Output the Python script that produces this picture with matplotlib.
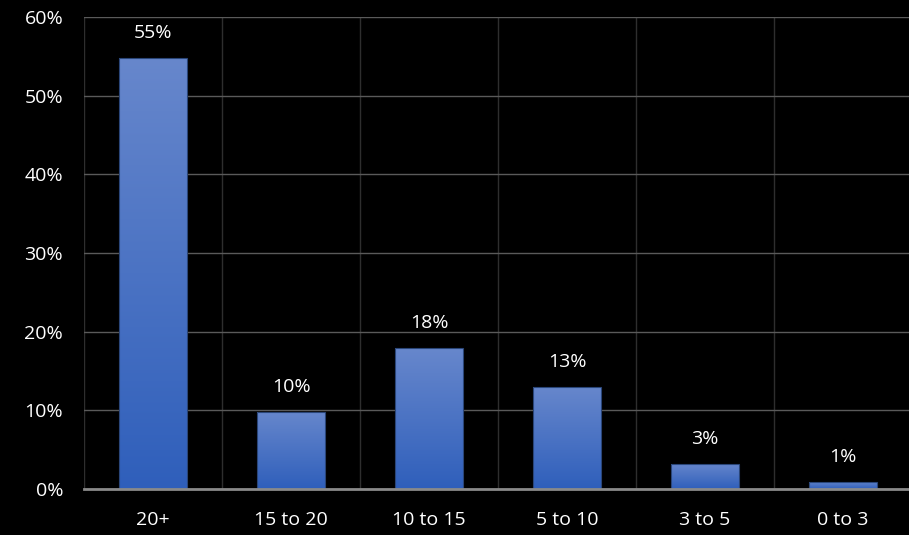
import numpy as np
import matplotlib.pyplot as plt
from matplotlib.colors import LinearSegmentedColormap

categories = ['20+', '15 to 20', '10 to 15', '5 to 10', '3 to 5', '0 to 3']
values = [54.8, 9.8, 17.9, 13.0, 3.2, 0.9]
labels = ['55%', '10%', '18%', '13%', '3%', '1%']
yticks = [0, 10, 20, 30, 40, 50, 60]

plt.rcParams['font.family'] = ['Open Sans', 'DejaVu Sans']

fig = plt.figure(figsize=(9.09, 5.35), dpi=100, facecolor='black')
ax = fig.add_axes([84/909, 46/535, 828/909, 472/535], facecolor='black')

x = np.arange(len(categories))
bars = ax.bar(x, values, width=0.49, color='none', edgecolor='#2a4679', linewidth=0.8, zorder=3)

#vertical gradient inside each bar
grad_cmap = LinearSegmentedColormap.from_list('g', ['#2f5fbb', '#6787cc'])
grad = np.linspace(0, 1, 256).reshape(-1, 1)
for b in bars:
    x0, y0 = b.get_x(), b.get_y()
    w, h = b.get_width(), b.get_height()
    im = ax.imshow(grad, cmap=grad_cmap, origin='lower', aspect='auto',
                   extent=[x0, x0 + w, y0, y0 + h], zorder=2)
    im.set_clip_path(b)

for xi, v, lab in zip(x, values, labels):
    ax.text(xi, v + 2.0, lab, ha='center', va='bottom', color='white', fontsize=14)

ax.set_xlim(-0.5, len(categories) - 0.5)
ax.set_ylim(0, 60)
ax.set_yticks(yticks)
ax.set_yticklabels([f'{t}%' for t in yticks])
ax.set_xticks(x)
ax.set_xticklabels(categories)
ax.set_xticks(np.arange(len(categories)) - 0.5, minor=True)

ax.tick_params(axis='both', colors='white', labelsize=14, length=0)
ax.tick_params(axis='y', pad=15)
ax.tick_params(axis='x', pad=16)
ax.tick_params(which='minor', length=0)

ax.grid(axis='y', which='major', color='#5a5a5a', linewidth=1, zorder=0)
ax.grid(axis='x', which='minor', color='#2e2e2e', linewidth=1, zorder=0)
ax.grid(axis='x', which='major', visible=False)

for s in ['top', 'right', 'left']:
    ax.spines[s].set_visible(False)
ax.spines['bottom'].set_color('#8a8a8a')
ax.spines['bottom'].set_linewidth(2)
ax.spines['bottom'].set_zorder(4)

fig.savefig('out.png', dpi=100, facecolor='black')
